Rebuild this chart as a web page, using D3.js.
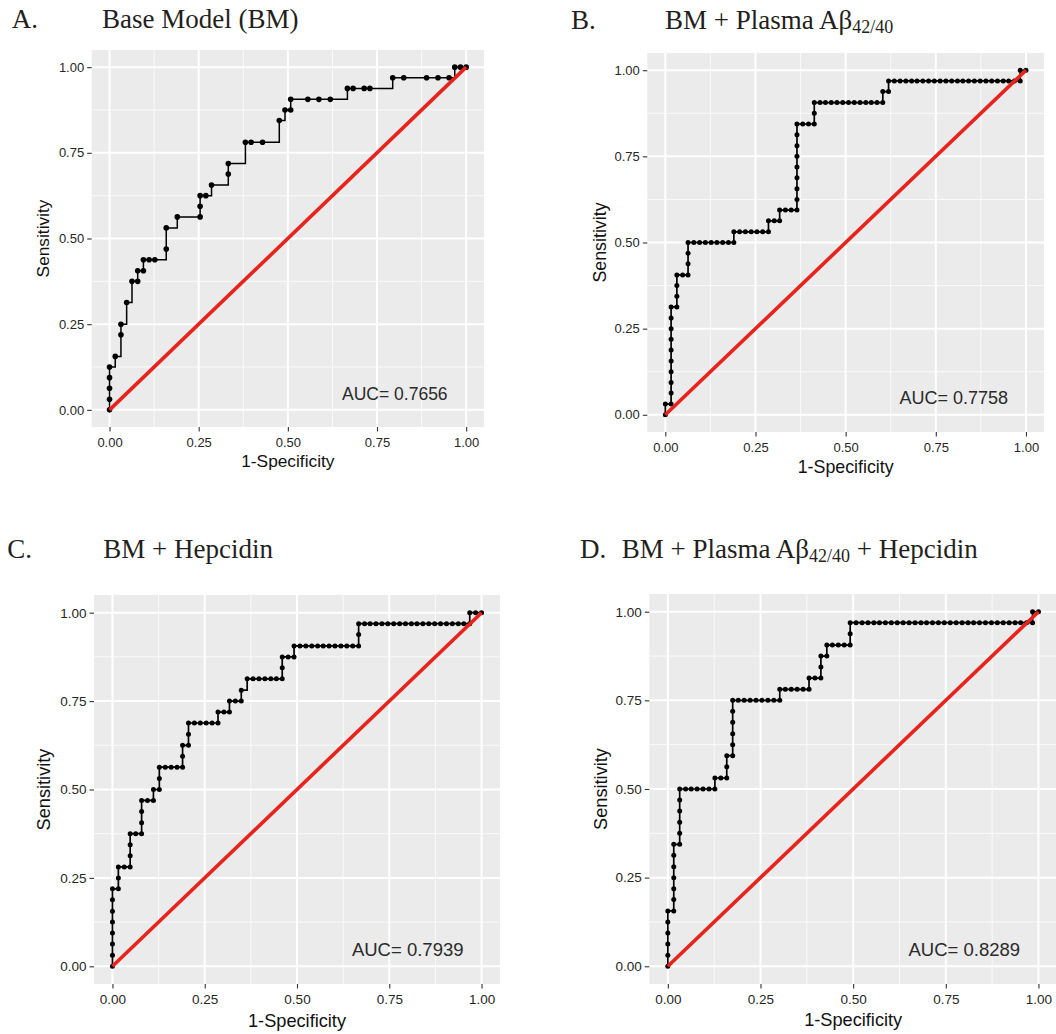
<!DOCTYPE html>
<html><head><meta charset="utf-8">
<script src="https://cdn.jsdelivr.net/npm/d3@7"></script>
<style>body{margin:0;background:#fff} svg{display:block}</style>
</head><body><svg id="c" width="1056" height="1034"></svg>
<script>
// ---------------- data ----------------
const panelLetters = ["A.", "B.", "C.", "D."];
const titleA = [["Base Model (BM)", 0]];
const titleB = [["BM + Plasma A\u03B2", 0], ["42/40", 1]];
const titleC = [["BM + Hepcidin", 0]];
const titleD = [["BM + Plasma A\u03B2", 0], ["42/40", 1], [" + Hepcidin", 0]];
const aucLabels = ["AUC= 0.7656", "AUC= 0.7758", "AUC= 0.7939", "AUC= 0.8289"];
const tickValues = [0, 0.25, 0.5, 0.75, 1];
const tickLabels = ["0.00", "0.25", "0.50", "0.75", "1.00"];
const minorValues = [0.125, 0.375, 0.625, 0.875];
const xAxisTitle = "1-Specificity";
const yAxisTitle = "Sensitivity";

// ROC points: [1-Specificity, Sensitivity]
const rocA = [[0,0],[0,.031],[0,.063],[0,.094],[0,.125],[.016,.156],[.032,.219],[.032,.25],[.048,.313],[.063,.375],[.079,.375],[.079,.406],[.095,.406],[.095,.438],[.111,.438],[.127,.438],[.159,.469],[.159,.531],[.190,.563],[.254,.563],[.254,.594],[.254,.625],[.270,.625],[.286,.656],[.333,.688],[.333,.719],[.381,.781],[.397,.781],[.429,.781],[.476,.844],[.492,.875],[.508,.875],[.508,.906],[.556,.906],[.587,.906],[.619,.906],[.667,.938],[.683,.938],[.714,.938],[.730,.938],[.794,.969],[.825,.969],[.889,.969],[.921,.969],[.952,.969],[.968,1],[.984,1],[1,1]];

const rocB = [[0,0],[0,.031],[.016,.031],[.016,.063],[.016,.094],[.016,.125],[.016,.156],[.016,.188],[.016,.219],[.016,.25],[.016,.281],[.016,.313],
[.032,.313],[.032,.344],[.032,.375],[.032,.406],
[.048,.406],[.063,.406],[.063,.438],[.063,.469],[.063,.5],
[.079,.5],[.095,.5],[.111,.5],[.127,.5],[.143,.5],[.159,.5],[.175,.5],[.190,.5],
[.190,.531],[.206,.531],[.222,.531],[.238,.531],[.254,.531],[.270,.531],[.286,.531],
[.286,.563],[.302,.563],[.317,.563],
[.317,.594],[.333,.594],[.349,.594],[.365,.594],
[.365,.625],[.365,.656],[.365,.688],[.365,.719],[.365,.75],[.365,.781],[.365,.813],[.365,.844],
[.381,.844],[.397,.844],[.413,.844],
[.413,.875],[.413,.906],
[.429,.906],[.444,.906],[.460,.906],[.476,.906],[.492,.906],[.508,.906],[.524,.906],[.540,.906],[.556,.906],[.571,.906],[.587,.906],[.603,.906],
[.603,.938],[.619,.938],
[.619,.969],[.635,.969],[.651,.969],[.667,.969],[.683,.969],[.698,.969],[.714,.969],[.730,.969],[.746,.969],[.762,.969],[.778,.969],[.794,.969],[.810,.969],[.825,.969],[.841,.969],[.857,.969],[.873,.969],[.889,.969],[.905,.969],[.921,.969],[.937,.969],[.952,.969],[.968,.969],[.984,.969],
[.984,1],[1,1]];

const rocC = [[0,0],[0,.031],[0,.063],[0,.094],[0,.125],[0,.156],[0,.188],[0,.219],
[.016,.219],[.016,.25],[.016,.281],
[.032,.281],[.048,.281],
[.048,.313],[.048,.344],[.048,.375],
[.063,.375],[.079,.375],
[.079,.406],[.079,.438],[.079,.469],
[.095,.469],[.111,.469],
[.111,.5],[.127,.5],
[.127,.531],[.127,.563],
[.143,.563],[.159,.563],[.175,.563],[.190,.563],
[.190,.594],[.190,.625],
[.206,.625],[.206,.656],[.206,.688],
[.222,.688],[.238,.688],[.254,.688],[.270,.688],[.286,.688],
[.286,.719],[.302,.719],[.317,.719],
[.317,.75],[.333,.75],[.349,.75],
[.349,.781],
[.365,.813],[.381,.813],[.397,.813],[.413,.813],[.429,.813],[.444,.813],[.460,.813],
[.460,.844],[.460,.875],
[.476,.875],[.492,.875],
[.492,.906],
[.508,.906],[.524,.906],[.540,.906],[.556,.906],[.571,.906],[.587,.906],[.603,.906],[.619,.906],[.635,.906],[.651,.906],[.667,.906],
[.667,.938],[.667,.969],
[.683,.969],[.698,.969],[.714,.969],[.730,.969],[.746,.969],[.762,.969],[.778,.969],[.794,.969],[.810,.969],[.825,.969],[.841,.969],[.857,.969],[.873,.969],[.889,.969],[.905,.969],[.921,.969],[.937,.969],[.952,.969],[.968,.969],
[.968,1],[.984,1],[1,1]];

const rocD = [[0,0],[0,.031],[0,.063],[0,.094],[0,.125],[0,.156],
[.016,.156],[.016,.188],[.016,.219],[.016,.25],[.016,.281],[.016,.313],[.016,.344],
[.032,.344],[.032,.375],[.032,.406],[.032,.438],[.032,.469],[.032,.5],
[.048,.5],[.063,.5],[.079,.5],[.095,.5],[.111,.5],[.127,.5],
[.127,.531],[.143,.531],[.159,.531],
[.159,.563],[.159,.594],
[.175,.594],[.175,.625],[.175,.656],[.175,.688],[.175,.719],[.175,.75],
[.190,.75],[.206,.75],[.222,.75],[.238,.75],[.254,.75],[.270,.75],[.286,.75],[.302,.75],
[.302,.781],[.317,.781],[.333,.781],[.349,.781],[.365,.781],[.381,.781],
[.381,.813],[.397,.813],[.413,.813],
[.413,.844],[.413,.875],
[.429,.875],[.429,.906],
[.444,.906],[.460,.906],[.476,.906],[.492,.906],
[.492,.938],[.492,.969],
[.508,.969],[.524,.969],[.540,.969],[.556,.969],[.571,.969],[.587,.969],[.603,.969],[.619,.969],[.635,.969],[.651,.969],[.667,.969],[.683,.969],[.698,.969],[.714,.969],[.730,.969],[.746,.969],[.762,.969],[.778,.969],[.794,.969],[.810,.969],[.825,.969],[.841,.969],[.857,.969],[.873,.969],[.889,.969],[.905,.969],[.921,.969],[.937,.969],[.952,.969],[.968,.969],[.984,.969],
[.984,1],[1,1]];

const rocs = [rocA, rocB, rocC, rocD];
const titles = [titleA, titleB, titleC, titleD];

// ---------------- layout / style ----------------
const layout = [
  {bx: 91.7, by: 50, bw: 392.3, bh: 377, lx: 11.7, tx: 102, ty: 28.3, r: 2.8, lw: 1.5, tf: 13, af: 17.3, auc: 17.5, yo: 42.4, xo: 39.7},
  {bx: 647.3, by: 53, bw: 396.7, bh: 379, lx: 571, tx: 665, ty: 28.5, r: 2.5, lw: 1.7, tf: 13, af: 17.8, auc: 18, yo: 41.3, xo: 41.3},
  {bx: 94, by: 595, bw: 406, bh: 389, lx: 7.3, tx: 103.3, ty: 558.3, r: 2.5, lw: 1.7, tf: 13.5, af: 18.2, auc: 18.5, yo: 44.5, xo: 42.7},
  {bx: 649.3, by: 594, bw: 407.7, bh: 390, lx: 580, tx: 621.7, ty: 558.3, r: 2.5, lw: 1.7, tf: 13.5, af: 18.2, auc: 18.5, yo: 42.6, xo: 42}
];
const serif = "'Liberation Serif','Times New Roman',serif";
const sans = "'Liberation Sans',Arial,sans-serif";
const svg = d3.select("#c");
svg.append("rect").attr("width", 1056).attr("height", 1034).attr("fill", "#fff");

layout.forEach((L, i) => {
  const g = svg.append("g");
  const x = d3.scaleLinear().domain([-0.05, 1.05]).range([L.bx, L.bx + L.bw]);
  const y = d3.scaleLinear().domain([-0.05, 1.05]).range([L.by + L.bh, L.by]);

  // title
  g.append("text").attr("x", L.lx).attr("y", L.ty).attr("font-family", serif)
    .attr("font-size", 27).attr("fill", "#231f20").text(panelLetters[i]);
  const tt = g.append("text").attr("x", L.tx).attr("y", L.ty).attr("font-family", serif)
    .attr("font-size", 27).attr("fill", "#231f20").attr("xml:space", "preserve");
  let shifted = false;
  titles[i].forEach(([s, sub]) => {
    const ts = tt.append("tspan").text(s);
    if (sub && !shifted) { ts.attr("font-size", 18).attr("dy", 4); shifted = true; }
    else if (!sub && shifted) { ts.attr("dy", -4); shifted = false; }
  });

  // panel background
  g.append("rect").attr("x", L.bx).attr("y", L.by).attr("width", L.bw).attr("height", L.bh).attr("fill", "#ebebeb");
  // minor grid
  minorValues.forEach(v => {
    g.append("line").attr("x1", x(v)).attr("x2", x(v)).attr("y1", L.by).attr("y2", L.by + L.bh).attr("stroke", "#fafafa").attr("stroke-width", 1);
    g.append("line").attr("y1", y(v)).attr("y2", y(v)).attr("x1", L.bx).attr("x2", L.bx + L.bw).attr("stroke", "#fafafa").attr("stroke-width", 1);
  });
  // major grid
  tickValues.forEach(v => {
    g.append("line").attr("x1", x(v)).attr("x2", x(v)).attr("y1", L.by).attr("y2", L.by + L.bh).attr("stroke", "#fff").attr("stroke-width", 2);
    g.append("line").attr("y1", y(v)).attr("y2", y(v)).attr("x1", L.bx).attr("x2", L.bx + L.bw).attr("stroke", "#fff").attr("stroke-width", 2);
  });

  // axes
  const fmt = (d) => tickLabels[tickValues.indexOf(d)];
  const ax = g.append("g").attr("transform", `translate(0,${L.by + L.bh})`)
    .call(d3.axisBottom(x).tickValues(tickValues).tickFormat(fmt).tickSize(4.5).tickPadding(2));
  const ay = g.append("g").attr("transform", `translate(${L.bx},0)`)
    .call(d3.axisLeft(y).tickValues(tickValues).tickFormat(fmt).tickSize(4.5).tickPadding(3));
  [ax, ay].forEach(a => {
    a.select(".domain").remove();
    a.selectAll(".tick line").attr("stroke", "#333").attr("stroke-width", 1.1);
    a.selectAll(".tick text").attr("font-family", sans).attr("font-size", L.tf).attr("fill", "#262626");
  });
  ax.selectAll(".tick text").attr("dy", null).attr("dominant-baseline", "alphabetic").attr("y", 20);

  // axis titles
  g.append("text").attr("x", L.bx + L.bw / 2).attr("y", L.by + L.bh + L.xo).attr("text-anchor", "middle")
    .attr("font-family", sans).attr("font-size", L.af).attr("fill", "#111").text(xAxisTitle);
  g.append("text").attr("transform", `translate(${L.bx - L.yo},${L.by + L.bh / 2}) rotate(-90)`).attr("text-anchor", "middle")
    .attr("font-family", sans).attr("font-size", L.af).attr("fill", "#111").text(yAxisTitle);

  // ROC step line and points
  const line = d3.line().x(d => x(d[0])).y(d => y(d[1])).curve(d3.curveStepAfter);
  g.append("path").datum(rocs[i]).attr("d", line).attr("fill", "none").attr("stroke", "#000").attr("stroke-width", L.lw);
  g.selectAll("circle.pt").data(rocs[i]).enter().append("circle").attr("class", "pt")
    .attr("cx", d => x(d[0])).attr("cy", d => y(d[1])).attr("r", L.r).attr("fill", "#000");

  // reference diagonal
  g.append("line").attr("x1", x(0)).attr("y1", y(0)).attr("x2", x(1)).attr("y2", y(1))
    .attr("stroke", "#e8231c").attr("stroke-width", 3.6).attr("stroke-linecap", "butt");

  // AUC label
  g.append("text").attr("x", x(0.8)).attr("y", y(0.03)).attr("text-anchor", "middle")
    .attr("font-family", sans).attr("font-size", L.auc).attr("fill", "#2a2a2a").text(aucLabels[i]);
});
</script>
</body></html>
